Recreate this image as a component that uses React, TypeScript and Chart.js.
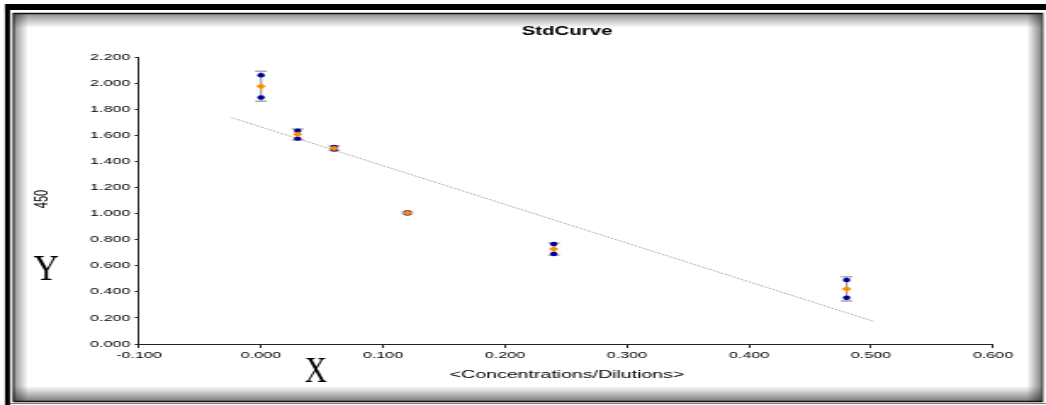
import React, { useEffect, useRef } from 'react';
import { Chart, registerables } from 'chart.js';

Chart.register(...registerables);

// ---- data ----
const concentrations = [0, 0.03, 0.06, 0.12, 0.24, 0.48];
const replicate1 = [2.06, 1.635, 1.51, 1.01, 0.767, 0.491];
const replicate2 = [1.89, 1.574, 1.49, 1.0, 0.69, 0.355];
const means = [1.975, 1.607, 1.5, 1.005, 0.728, 0.422];
const errors = [0.115, 0.042, 0.017, 0.008, 0.045, 0.093];
const trendX = [-0.024, 0.503];
const trendY = [1.735, 0.171];
const xTickLabels = ['-0.100', '0.000', '0.100', '0.200', '0.300', '0.400', '0.500', '0.600'];
const yTickLabels = ['0.000', '0.200', '0.400', '0.600', '0.800', '1.000', '1.200', '1.400', '1.600', '1.800', '2.000', '2.200'];
const chartTitle = 'StdCurve';
const xTitle = '<Concentrations/Dilutions>';
const yTitle = '450';

// ---- layout (canvas drawn narrow, then stretched horizontally) ----
const FULL_W = 1046;
const H = 405;
const W = 616;
const K = FULL_W / W;
const SANS = '"Liberation Sans", Arial, sans-serif';
const SERIF = '"Liberation Serif", "Times New Roman", serif';

const decorPlugin = {
  id: 'decor',
  beforeDraw(chart: any) {
    const ctx = chart.ctx as CanvasRenderingContext2D;
    ctx.save();
    ctx.fillStyle = '#fff';
    ctx.fillRect(0, 0, chart.width, chart.height);
    ctx.scale(1 / K, 1);
    // inner shadow
    const x0 = 13, y0 = 13, x1 = 1042, y1 = 401, s = 15;
    let g = ctx.createLinearGradient(0, y0, 0, y0 + s);
    g.addColorStop(0, 'rgba(0,0,0,0.45)');
    g.addColorStop(1, 'rgba(0,0,0,0)');
    ctx.fillStyle = g;
    ctx.fillRect(x0, y0, x1 - x0, s);
    g = ctx.createLinearGradient(0, y1, 0, y1 - s);
    g.addColorStop(0, 'rgba(0,0,0,0.5)');
    g.addColorStop(1, 'rgba(0,0,0,0)');
    ctx.fillStyle = g;
    ctx.fillRect(x0, y1 - s, x1 - x0, s);
    g = ctx.createLinearGradient(x0, 0, x0 + s, 0);
    g.addColorStop(0, 'rgba(0,0,0,0.45)');
    g.addColorStop(1, 'rgba(0,0,0,0)');
    ctx.fillStyle = g;
    ctx.fillRect(x0, y0, s, y1 - y0);
    g = ctx.createLinearGradient(x1, 0, x1 - s, 0);
    g.addColorStop(0, 'rgba(0,0,0,0.5)');
    g.addColorStop(1, 'rgba(0,0,0,0)');
    ctx.fillStyle = g;
    ctx.fillRect(x1 - s, y0, s, y1 - y0);
    // inner border
    ctx.strokeStyle = '#111';
    ctx.lineWidth = 1.5;
    ctx.strokeRect(x0 + 0.5, y0 + 0.5, x1 - x0, y1 - y0);
    // outer black bands
    ctx.fillStyle = '#000';
    ctx.fillRect(5, 4, FULL_W - 5, 6);
    ctx.fillRect(5, 4, 5, H - 4);
    // extra bottom line
    ctx.strokeStyle = '#555';
    ctx.lineWidth = 1;
    ctx.beginPath();
    ctx.moveTo(10, 403.5);
    ctx.lineTo(FULL_W, 403.5);
    ctx.stroke();
    ctx.restore();
  },
  beforeDatasetsDraw(chart: any) {
    const ctx = chart.ctx as CanvasRenderingContext2D;
    const xs = chart.scales.x;
    const ys = chart.scales.y;
    ctx.save();
    for (let i = 0; i < concentrations.length; i++) {
      const px = xs.getPixelForValue(concentrations[i]);
      const top = ys.getPixelForValue(means[i] + errors[i]);
      const bot = ys.getPixelForValue(means[i] - errors[i]);
      ctx.strokeStyle = '#999';
      ctx.lineWidth = 1.2;
      ctx.beginPath();
      ctx.moveTo(px, top);
      ctx.lineTo(px, bot);
      ctx.stroke();
      ctx.strokeStyle = '#aaa';
      ctx.lineWidth = 1.5;
      ctx.beginPath();
      ctx.moveTo(px - 3.4, top);
      ctx.lineTo(px + 3.4, top);
      ctx.moveTo(px - 3.4, bot);
      ctx.lineTo(px + 3.4, bot);
      ctx.stroke();
    }
    ctx.restore();
  },
  afterDraw(chart: any) {
    const ctx = chart.ctx as CanvasRenderingContext2D;
    ctx.save();
    ctx.fillStyle = '#000';
    ctx.textAlign = 'center';
    ctx.textBaseline = 'middle';
    ctx.font = `bold 12px ${SANS}`;
    ctx.fillText(chartTitle, 567 / K, 32);
    ctx.font = `11.5px ${SANS}`;
    ctx.fillText(xTitle, 567 / K, 375);
    ctx.save();
    ctx.translate(43 / K, 199);
    ctx.rotate(-Math.PI / 2);
    ctx.font = `11px ${SANS}`;
    ctx.fillText(yTitle, 0, 0);
    ctx.restore();
    // unstretched annotations
    ctx.scale(1 / K, 1);
    ctx.textBaseline = 'alphabetic';
    ctx.font = `35px ${SERIF}`;
    ctx.fillText('Y', 46, 280);
    ctx.save();
    ctx.translate(316, 382);
    ctx.scale(0.85, 1);
    ctx.font = `36px ${SERIF}`;
    ctx.fillText('X', 0, 0);
    ctx.restore();
    ctx.restore();
  },
};

export default function App() {
  const ref = useRef<HTMLCanvasElement>(null);
  useEffect(() => {
    const pts = (ys: number[]) => concentrations.map((x, i) => ({ x, y: ys[i] }));
    const chart = new Chart(ref.current as HTMLCanvasElement, {
      type: 'scatter',
      data: {
        datasets: [
          {
            label: 'Mean',
            data: pts(means),
            pointStyle: 'rectRot',
            pointRadius: 2.9,
            backgroundColor: '#ff8c00',
            borderWidth: 0,
          },
          {
            label: 'Rep 1',
            data: pts(replicate1),
            pointRadius: 2.2,
            backgroundColor: '#00009a',
            borderWidth: 0,
          },
          {
            label: 'Rep 2',
            data: pts(replicate2),
            pointRadius: 2.2,
            backgroundColor: '#00009a',
            borderWidth: 0,
          },
          {
            label: 'Trend',
            data: trendX.map((x, i) => ({ x, y: trendY[i] })),
            showLine: true,
            pointRadius: 0,
            borderColor: '#9a9a9a',
            borderWidth: 1,
            borderDash: [1, 1],
          },
        ],
      },
      options: {
        responsive: false,
        animation: false,
        devicePixelRatio: 1,
        layout: { padding: { left: 0, top: 57, right: (FULL_W - 993) / K, bottom: 0 } },
        plugins: { legend: { display: false }, tooltip: { enabled: false }, title: { display: false } },
        scales: {
          x: {
            type: 'linear',
            min: -0.1,
            max: 0.6,
            afterFit: (s: any) => {
              s.height = H - 344;
            },
            ticks: {
              stepSize: 0.1,
              autoSkip: false,
              maxRotation: 0,
              padding: 2,
              color: '#000',
              font: { family: SANS, size: 9.5 },
              callback: (_v: any, i: number) => xTickLabels[i],
            },
            grid: { display: true, drawOnChartArea: false, drawTicks: true, tickLength: 4, color: '#222' },
            border: { display: true, color: '#222', width: 1 },
          },
          y: {
            type: 'linear',
            min: 0,
            max: 2.2,
            afterFit: (s: any) => {
              s.width = 139 / K;
            },
            ticks: {
              stepSize: 0.2,
              autoSkip: false,
              padding: 2.6,
              color: '#000',
              font: { family: SANS, size: 9.5 },
              callback: (_v: any, i: number) => yTickLabels[i],
            },
            grid: { display: true, drawOnChartArea: false, drawTicks: true, tickLength: 2.5, color: '#222' },
            border: { display: true, color: '#222', width: 1 },
          },
        },
      },
      plugins: [decorPlugin],
    });
    return () => chart.destroy();
  }, []);
  return (
    <div
      style={{
        position: 'fixed',
        left: 0,
        top: 0,
        width: FULL_W,
        height: H,
        overflow: 'hidden',
        background: '#fff',
      }}
    >
      <div style={{ width: W, height: H, transform: `scaleX(${K})`, transformOrigin: '0 0' }}>
        <canvas ref={ref} width={W} height={H} style={{ display: 'block' }} />
      </div>
    </div>
  );
}
